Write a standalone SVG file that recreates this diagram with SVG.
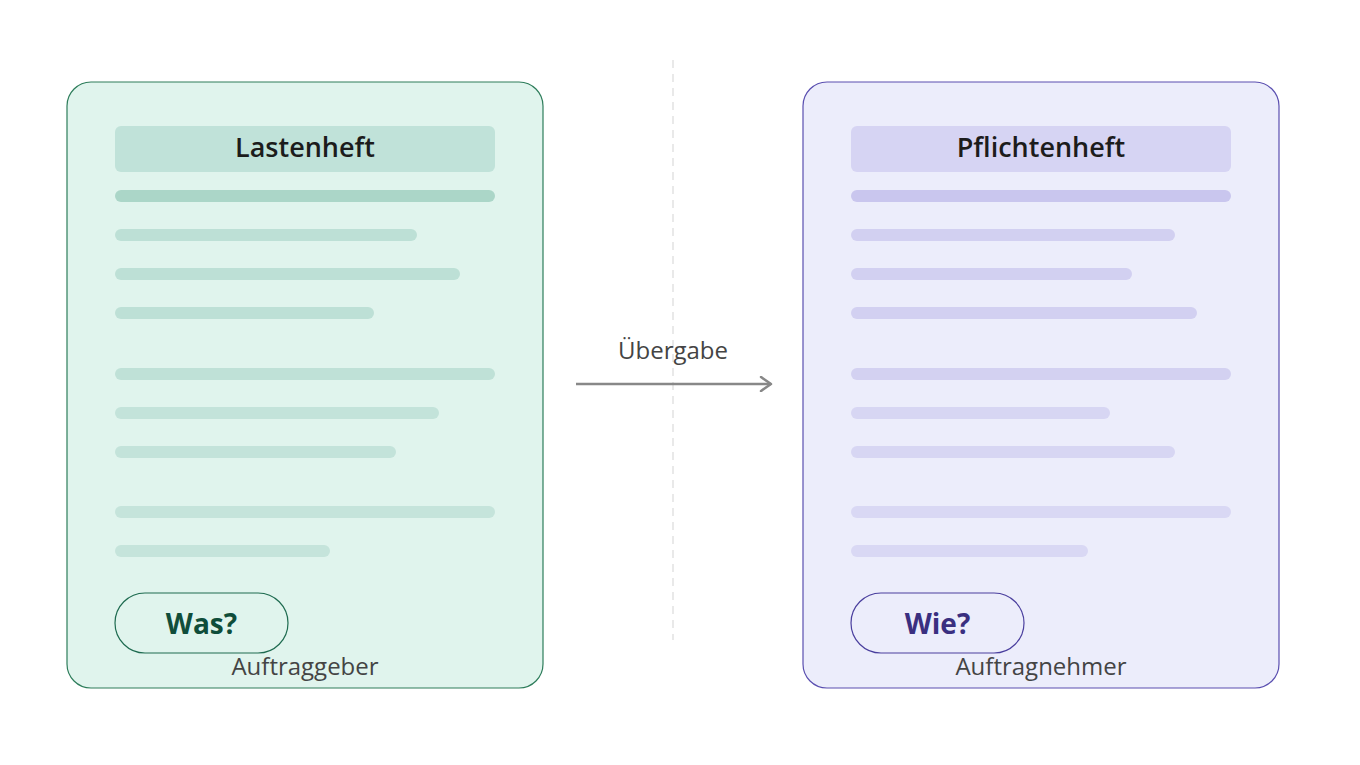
<svg xmlns="http://www.w3.org/2000/svg" width="1360" height="765" viewBox="0 0 1360 765">
<style>
text{font-family:"Open Sans","Noto Sans","Liberation Sans",sans-serif}
.title{font-size:27px;font-weight:600;fill:#1c1c1c;text-anchor:middle}
.q{font-size:28px;font-weight:700;text-anchor:middle}
.role{font-size:24px;fill:#444;text-anchor:middle}
.lbl{font-size:24px;fill:#444;text-anchor:middle}
</style>
<defs>
<marker id="arr" viewBox="0 0 14 16" refX="12" refY="8" markerWidth="14" markerHeight="16" markerUnits="userSpaceOnUse" orient="auto">
<path d="M2 1 L12 8 L2 15" fill="none" stroke="#888" stroke-width="2.5" stroke-linecap="round" stroke-linejoin="round"/>
</marker>
</defs>
<rect width="1360" height="765" fill="#fff"/>
<line x1="673" y1="60" x2="673" y2="640" stroke="#e2e2e2" stroke-width="1.5" stroke-dasharray="8 6"/>

<g id="lastenheft">
<rect x="67" y="82" width="476" height="606" rx="24" fill="#e0f4ed" stroke="#2e7d5b" stroke-width="1.2"/>
<rect x="115" y="126" width="380" height="46" rx="6" fill="#c0e2d9"/>
<text class="title" x="305" y="157">Lastenheft</text>
<g>
<rect x="115" y="190" width="380" height="12" rx="6" fill="#abd6c8"/>
<rect x="115" y="229" width="302" height="12" rx="6" fill="#bde0d6"/>
<rect x="115" y="268" width="345" height="12" rx="6" fill="#bde0d6"/>
<rect x="115" y="307" width="259" height="12" rx="6" fill="#bde0d6"/>
<rect x="115" y="368" width="380" height="12" rx="6" fill="#bfe1d7"/>
<rect x="115" y="407" width="324" height="12" rx="6" fill="#c3e3da"/>
<rect x="115" y="446" width="281" height="12" rx="6" fill="#c3e3da"/>
<rect x="115" y="506" width="380" height="12" rx="6" fill="#c5e4db"/>
<rect x="115" y="545" width="215" height="12" rx="6" fill="#c5e4db"/>
</g>
<rect x="115" y="593" width="173" height="60" rx="30" fill="#e0f4ed" stroke="#1e6b50" stroke-width="1.2"/>
<text class="q" x="201.5" y="634" fill="#0f4d3a">Was?</text>
<text class="role" x="305" y="675">Auftraggeber</text>
</g>

<g id="pflichtenheft">
<rect x="803" y="82" width="476" height="606" rx="24" fill="#ecedfb" stroke="#5a4fb0" stroke-width="1.2"/>
<rect x="851" y="126" width="380" height="46" rx="6" fill="#d6d4f3"/>
<text class="title" x="1041" y="157">Pflichtenheft</text>
<g>
<rect x="851" y="190" width="380" height="12" rx="6" fill="#c9c6ee"/>
<rect x="851" y="229" width="324" height="12" rx="6" fill="#d2d0f1"/>
<rect x="851" y="268" width="281" height="12" rx="6" fill="#d2d0f1"/>
<rect x="851" y="307" width="346" height="12" rx="6" fill="#d2d0f1"/>
<rect x="851" y="368" width="380" height="12" rx="6" fill="#d3d1f1"/>
<rect x="851" y="407" width="259" height="12" rx="6" fill="#d7d6f3"/>
<rect x="851" y="446" width="324" height="12" rx="6" fill="#d7d6f3"/>
<rect x="851" y="506" width="380" height="12" rx="6" fill="#d9d8f4"/>
<rect x="851" y="545" width="237" height="12" rx="6" fill="#d9d8f4"/>
</g>
<rect x="851" y="593" width="173" height="60" rx="30" fill="#ecedfb" stroke="#4a3f9e" stroke-width="1.2"/>
<text class="q" x="937.5" y="634" fill="#3a2f80">Wie?</text>
<text class="role" x="1041" y="675">Auftragnehmer</text>
</g>

<g id="connectors">
<line x1="576" y1="384" x2="771" y2="384" stroke="#888" stroke-width="2.5" marker-end="url(#arr)"/>
<text class="lbl" x="673" y="359">Übergabe</text>
</g>
</svg>
